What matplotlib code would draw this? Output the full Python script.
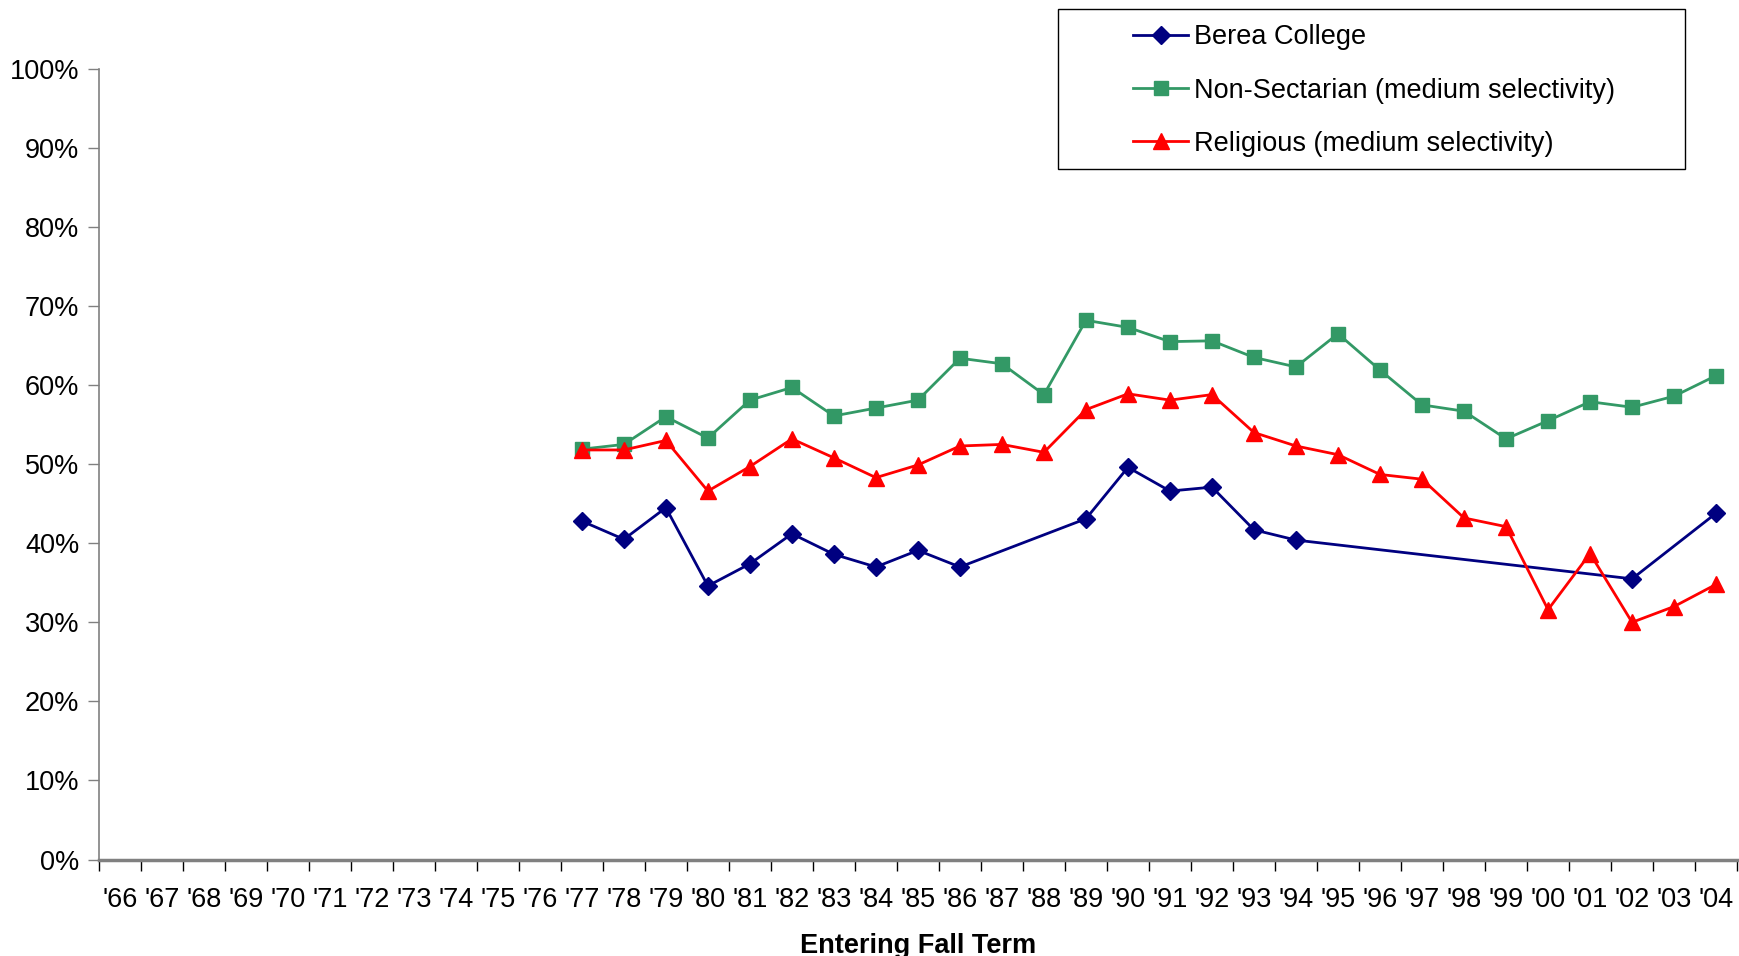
import numpy as np
import matplotlib
matplotlib.use('Agg')
import matplotlib.pyplot as plt
from matplotlib.patches import Rectangle
from matplotlib.ticker import FuncFormatter, FixedLocator

plt.rcParams['font.family'] = ['Liberation Sans', 'DejaVu Sans']

# entering fall term, '66 .. '04
years = ["'66", "'67", "'68", "'69", "'70", "'71", "'72", "'73", "'74", "'75",
         "'76", "'77", "'78", "'79", "'80", "'81", "'82", "'83", "'84", "'85",
         "'86", "'87", "'88", "'89", "'90", "'91", "'92", "'93", "'94", "'95",
         "'96", "'97", "'98", "'99", "'00", "'01", "'02", "'03", "'04"]

N = None
# values in percent, None = no data ('66-'76 empty for all series)
berea = [N] * 11 + [42.8, 40.5, 44.5, 34.6, 37.4, 41.2, 38.6, 37.0, 39.1, 37.0,
                    N, N, 43.1, 49.6, 46.6, 47.1, 41.7, 40.4,
                    N, N, N, N, N, N, N, 35.5, N, 43.8]
non_sectarian = [N] * 11 + [51.9, 52.5, 56.0, 53.3, 58.1, 59.7, 56.1, 57.1, 58.1, 63.4,
                            62.7, 58.8, 68.2, 67.3, 65.5, 65.6, 63.5, 62.3, 66.5, 61.9,
                            57.5, 56.7, 53.2, 55.5, 57.9, 57.2, 58.6, 61.2]
religious = [N] * 11 + [51.8, 51.8, 53.0, 46.6, 49.7, 53.2, 50.8, 48.3, 49.9, 52.3,
                        52.5, 51.5, 56.9, 58.9, 58.1, 58.8, 54.0, 52.3, 51.2, 48.7,
                        48.1, 43.2, 42.1, 31.6, 38.7, 30.0, 32.0, 34.8]

series = [
    ('Berea College', berea, '#000080', 'D', 9.5),
    ('Non-Sectarian (medium selectivity)', non_sectarian, '#339966', 's', 9.5),
    ('Religious (medium selectivity)', religious, '#FF0000', '^', 11),
]

FS = 19.5

fig = plt.figure(figsize=(17.39, 9.56), dpi=100)
ax = fig.add_axes([0.0568, 0.1009, 0.9421, 0.8271])

x_all = np.arange(len(years))
for name, vals, color, marker, ms in series:
    v = np.array([np.nan if a is None else a / 100 for a in vals])
    ok = ~np.isnan(v)
    # gaps are bridged, as in the original
    ax.plot(x_all[ok], v[ok], color=color, marker=marker, markersize=ms,
            linewidth=2, label=name, clip_on=False)

ax.set_xlim(-0.5, len(years) - 0.5)
ax.set_ylim(0, 1)
ax.set_yticks(np.arange(0, 1.01, 0.1))
ax.yaxis.set_major_formatter(FuncFormatter(lambda v, p: '{:.0f}%'.format(v * 100)))
ax.set_xticks(x_all)
ax.set_xticklabels(years)
ax.xaxis.set_minor_locator(FixedLocator(np.arange(-0.5, len(years), 1.0)))

ax.tick_params(axis='x', which='major', length=0, pad=19.5, labelsize=FS)
ax.tick_params(axis='x', which='minor', length=8, width=1, color='black', direction='out')
ax.tick_params(axis='y', length=8, width=1, color='#808080', direction='out', pad=6, labelsize=FS)

for s in ['top', 'right']:
    ax.spines[s].set_visible(False)
ax.spines['left'].set_color('#808080')
ax.spines['left'].set_linewidth(1.2)
ax.spines['bottom'].set_color('#808080')
ax.spines['bottom'].set_linewidth(2.5)

ax.set_xlabel('Entering Fall Term', fontsize=FS, fontweight='bold', labelpad=14.5)

# legend box like the spreadsheet one
fig.patches.append(Rectangle((0.6085, 0.823), 0.3605, 0.1675, transform=fig.transFigure,
                             fill=False, edgecolor='black', linewidth=1))
ax.legend(loc='upper left', bbox_to_anchor=(0.6515, 0.9744), bbox_transform=fig.transFigure,
          frameon=False, fontsize=FS, handlelength=2.05, handletextpad=0.2,
          labelspacing=1.0, borderpad=0, borderaxespad=0)

fig.savefig('out.png', dpi=100)
